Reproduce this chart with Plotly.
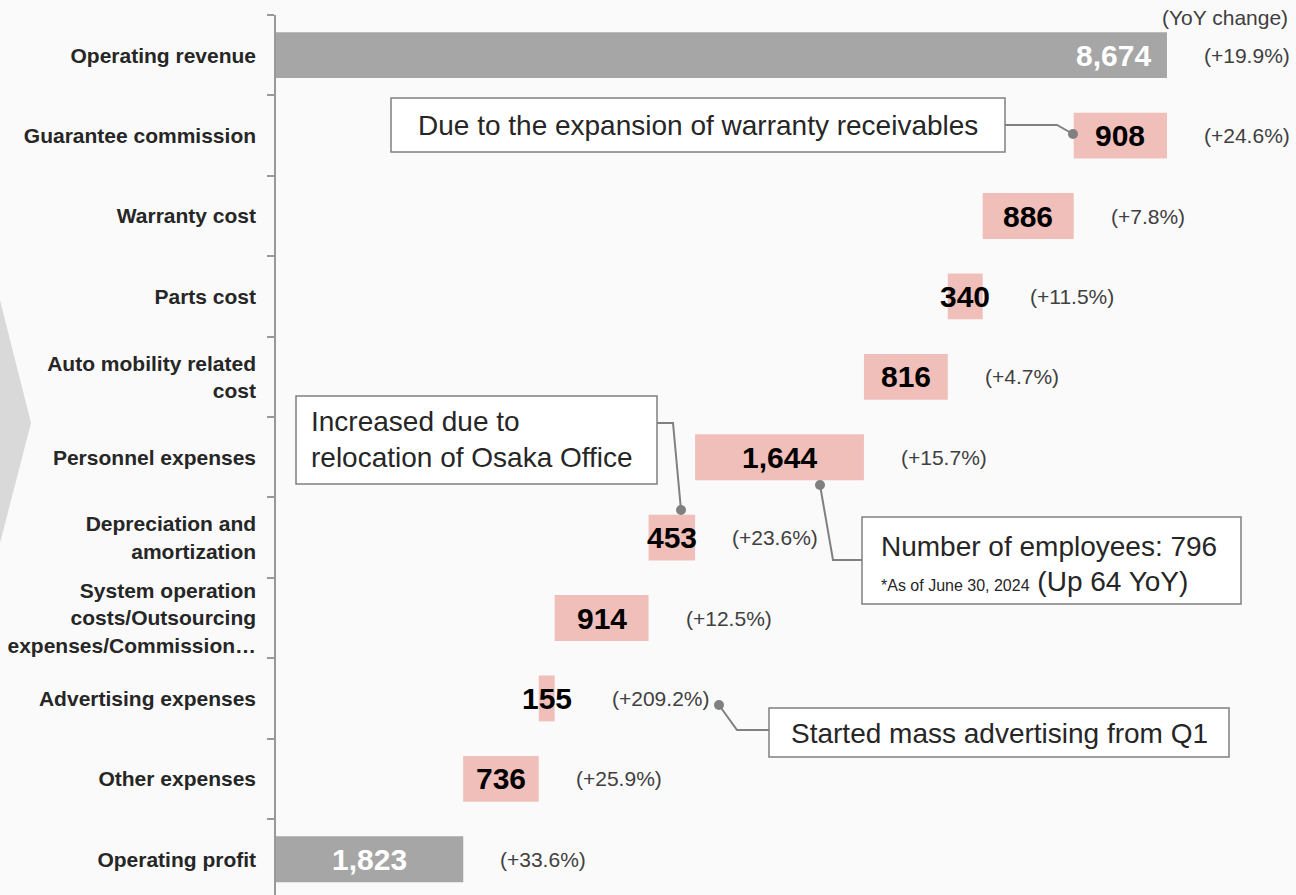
import plotly.graph_objects as go

# ---------------- data ----------------
categories = [
    "Operating revenue",
    "Guarantee commission",
    "Warranty cost",
    "Parts cost",
    "Auto mobility related<br>cost",
    "Personnel expenses",
    "Depreciation and<br>amortization",
    "System operation<br>costs/Outsourcing<br>expenses/Commission…",
    "Advertising expenses",
    "Other expenses",
    "Operating profit",
]
values = [8674, 908, 886, 340, 816, 1644, 453, 914, 155, 736, 1823]
kinds = ["total", "cost", "cost", "cost", "cost", "cost", "cost", "cost", "cost", "cost", "total"]
yoy_labels = ["(+19.9%)", "(+24.6%)", "(+7.8%)", "(+11.5%)", "(+4.7%)", "(+15.7%)",
              "(+23.6%)", "(+12.5%)", "(+209.2%)", "(+25.9%)", "(+33.6%)"]

# ---------------- styling ----------------
FONT = "Liberation Sans, Arial, sans-serif"
BG = "#fafafa"
GRAY = "#a6a6a6"
PINK = "#f0bfba"
TXT = "#262626"
BOX_LINE = "#808080"

L, R, T, B = 276, 0, 15, 0
W, H = 1296, 895
PW, PH = W - L - R, H - T - B
X_MAX = 9930

def P(px, py):
    return (px - L) / PW, 1 - (py - T) / PH

# waterfall geometry
bases, ends = [], []
running = 0
for v, k in zip(values, kinds):
    if k == "total":
        bases.append(0)
        ends.append(v)
        running = v
    else:
        bases.append(running - v)
        ends.append(running)
        running -= v

colors = [GRAY if k == "total" else PINK for k in kinds]

fig = go.Figure()
fig.add_trace(go.Bar(
    y=categories, x=values, base=bases, orientation="h",
    marker=dict(color=colors, line=dict(width=0)),
    width=0.57, hoverinfo="skip", showlegend=False,
))

annotations = []
# value labels
for i, (c, v, b, k) in enumerate(zip(categories, values, bases, kinds)):
    if i == 0:
        annotations.append(dict(x=b + v, y=c, xref="x", yref="y", text=f"<b>{v:,}</b>",
                                showarrow=False, xanchor="right", xshift=-14,
                                font=dict(family=FONT, size=30, color="white")))
    else:
        annotations.append(dict(x=b + v / 2, y=c, xref="x", yref="y", text=f"<b>{v:,}</b>",
                                showarrow=False, xanchor="center",
                                font=dict(family=FONT, size=30,
                                          color="white" if k == "total" else "#000000")))

# yoy labels
extra_shift = {3: 10, 8: 20}
for i, (c, e, t) in enumerate(zip(categories, ends, yoy_labels)):
    annotations.append(dict(x=e, y=c, xref="x", yref="y", text=t, showarrow=False,
                            xanchor="left", xshift=35 + extra_shift.get(i, 0),
                            font=dict(family=FONT, size=21, color="#404040")))

# header
hx, hy = P(1290, 17)
annotations.append(dict(x=hx, y=hy, xref="paper", yref="paper", text="(YoY change)",
                        showarrow=False, xanchor="right", yanchor="middle",
                        font=dict(family=FONT, size=21, color="#404040")))

shapes = []
# chevron decoration
c1, c2, c3 = P(0, 300), P(31, 423), P(0, 543)
shapes.append(dict(type="path", xref="paper", yref="paper",
                   path=f"M {c1[0]} {c1[1]} L {c2[0]} {c2[1]} L {c3[0]} {c3[1]} Z",
                   fillcolor="#d9d9d9", line=dict(width=0), layer="below"))

def box(x0, y0, x1, y1):
    a, b_ = P(x0, y0), P(x1, y1)
    shapes.append(dict(type="rect", xref="paper", yref="paper", x0=a[0], y0=b_[1], x1=b_[0], y1=a[1],
                       fillcolor="white", line=dict(color=BOX_LINE, width=1.5), layer="above"))

def polyline(pts):
    pp = [P(*p) for p in pts]
    path = "M " + " L ".join(f"{x} {y}" for x, y in pp)
    shapes.append(dict(type="path", xref="paper", yref="paper", path=path,
                       line=dict(color=BOX_LINE, width=2), layer="above"))

def dot(px, py, r=5):
    a, b_ = P(px - r, py - r), P(px + r, py + r)
    shapes.append(dict(type="circle", xref="paper", yref="paper", x0=a[0], y0=b_[1], x1=b_[0], y1=a[1],
                       fillcolor=BOX_LINE, line=dict(width=0), layer="above"))

def text(px, py, s, size=28, anchor="center", align="center"):
    x, y = P(px, py)
    annotations.append(dict(x=x, y=y, xref="paper", yref="paper", text=s, showarrow=False,
                            xanchor=anchor, yanchor="middle", align=align,
                            font=dict(family=FONT, size=size, color=TXT)))

# callout 1
box(391, 98, 1005, 152)
polyline([(1005, 125), (1057, 125), (1073, 134)])
dot(1073, 134)
text(698, 126, "Due to the expansion of warranty receivables")

# callout 2
box(296, 396, 657, 484)
polyline([(657, 423), (673, 423), (681, 510)])
dot(681, 510)
text(309, 440, "Increased due to<br>relocation of Osaka Office", anchor="left", align="left")

# callout 3
box(862, 517, 1241, 604)
polyline([(820, 485), (833, 560), (862, 560)])
dot(820, 485)
text(879, 546, "Number of employees: 796", anchor="left", align="left")
text(879, 581, "<span style='font-size:16px'>*As of June 30, 2024</span> (Up 64 YoY)",
     anchor="left", align="left")

# callout 4
box(769, 708, 1229, 757)
polyline([(719, 705), (737, 730), (769, 730)])
dot(719, 705)
text(999, 733, "Started mass advertising from Q1")

fig.update_layout(
    width=W, height=H,
    margin=dict(l=L, r=R, t=T, b=B, autoexpand=False),
    paper_bgcolor=BG, plot_bgcolor=BG,
    xaxis=dict(visible=False, range=[0, X_MAX], fixedrange=True),
    yaxis=dict(
        type="category", categoryorder="array", categoryarray=categories,
        range=[10.445, -0.5],
        showline=True, linecolor="#999999", linewidth=1.5,
        ticks="outside", ticklen=7, tickcolor="#999999", tickwidth=1.5,
        tickson="boundaries", showgrid=False, zeroline=False,
        ticklabelstandoff=14,
        tickfont=dict(family=FONT, size=21, color=TXT),
        tickprefix="<b>", ticksuffix="</b>",
    ),
    annotations=annotations,
    shapes=shapes,
    font=dict(family=FONT),
)

fig.write_html(
    "out.html",
    config={"displayModeBar": False},
    post_script="document.body.style.margin='0';document.body.style.overflow='hidden';"
                "document.body.style.background='#fafafa';",
)
